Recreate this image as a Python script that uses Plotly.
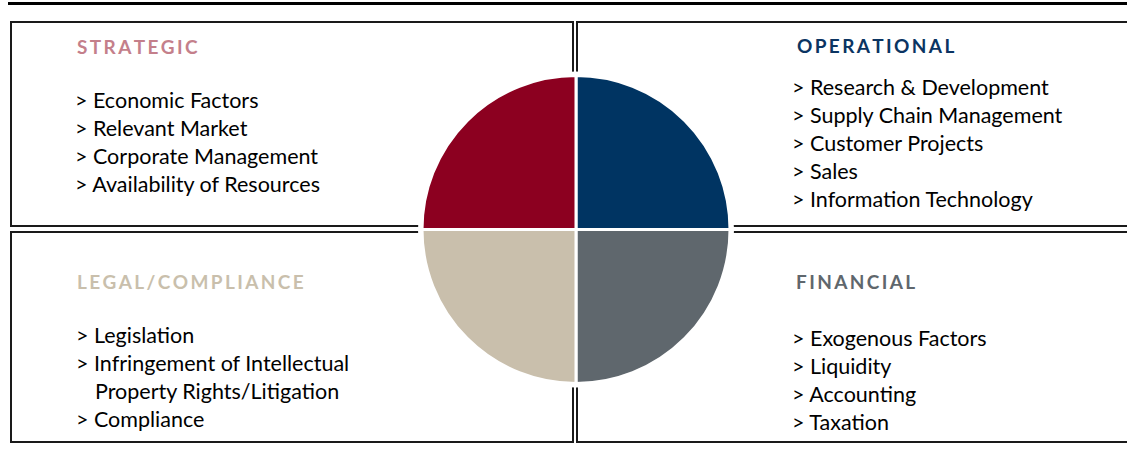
import plotly.graph_objects as go

W, H = 1127, 454

# ---- data ----
categories = ["OPERATIONAL", "FINANCIAL", "LEGAL/COMPLIANCE", "STRATEGIC"]
shares = [1, 1, 1, 1]
slice_colors = ["#003462", "#5F676D", "#C9BFAC", "#8C0020"]
title_colors = ["#0B3462", "#5F676D", "#C9BFAC", "#C47F8B"]

operational_items = ["Research & Development", "Supply Chain Management",
                     "Customer Projects", "Sales", "Information Technology"]
financial_items = ["Exogenous Factors", "Liquidity", "Accounting", "Taxation"]
legal_items = ["Legislation", "Infringement of Intellectual|Property Rights/Litigation",
               "Compliance"]
strategic_items = ["Economic Factors", "Relevant Market",
                   "Corporate Management", "Availability of Resources"]


def px(x):
    return x / W


def py(y):
    return 1 - y / H


fig = go.Figure()

# pie
cx, cy, r = 576, 229.5, 154
fig.add_trace(go.Pie(
    labels=categories, values=shares, sort=False, direction="clockwise",
    rotation=0, marker=dict(colors=slice_colors, line=dict(color="white", width=3)),
    textinfo="none", hoverinfo="label", showlegend=False,
    domain=dict(x=[px(cx - r), px(cx + r)], y=[py(cy + r), py(cy - r)]),
))

shapes = []
line = dict(color="#1a1a1a", width=2)
# top rule
shapes.append(dict(type="line", xref="paper", yref="paper", x0=px(8), x1=px(1127),
                   y0=py(3.5), y1=py(3.5), line=dict(color="black", width=3)))
# boxes
boxes = [(11, 22, 573, 226), (577, 22, 1140, 226),
         (11, 232, 573, 442), (577, 232, 1140, 442)]
for x0, y0, x1, y1 in boxes:
    shapes.append(dict(type="rect", xref="paper", yref="paper", layer="below",
                       x0=px(x0), x1=px(x1), y0=py(y1), y1=py(y0), line=line))
# white gap around the pie
gap = 158
shapes.append(dict(type="circle", xref="paper", yref="paper", layer="below",
                   x0=px(cx - gap), x1=px(cx + gap), y0=py(cy + gap), y1=py(cy - gap),
                   fillcolor="white", line=dict(width=0)))

annotations = []
FONT = "Lato"
BODY = 21.5
PAD = 3  # annotation inner padding


def spaced(s):
    return "\u200a\u200a".join(s)


def add_title(text, x, y, color):
    annotations.append(dict(text="<b>" + spaced(text) + "</b>", x=px(x - PAD), y=py(y),
                            xref="paper", yref="paper", xanchor="left", yanchor="middle",
                            showarrow=False, font=dict(family=FONT, size=19, color=color)))


def add_items(items, x, y0, step=28, indent=19):
    y = y0
    for it in items:
        parts = it.split("|")
        for i, p in enumerate(parts):
            annotations.append(dict(text=("> " + p) if i == 0 else p,
                                    x=px((x if i == 0 else x + indent) - PAD), y=py(y),
                                    xref="paper", yref="paper", xanchor="left",
                                    yanchor="middle", showarrow=False,
                                    font=dict(family=FONT, size=BODY, color="black")))
            y += step


add_title(categories[3], 78, 46, title_colors[3])
add_items(strategic_items, 76, 100)
add_title(categories[0], 798, 45, title_colors[0])
add_items(operational_items, 793, 87)
add_title(categories[2], 78, 281, title_colors[2])
add_items(legal_items, 77, 335)
add_title(categories[1], 797, 281, title_colors[1])
add_items(financial_items, 793, 338)

fig.update_layout(width=W, height=H, margin=dict(l=0, r=0, t=0, b=0),
                  paper_bgcolor="white", plot_bgcolor="white",
                  shapes=shapes, annotations=annotations)
fig.write_html("out.html", config={"displayModeBar": False},
               post_script="document.body.style.margin='0';")
